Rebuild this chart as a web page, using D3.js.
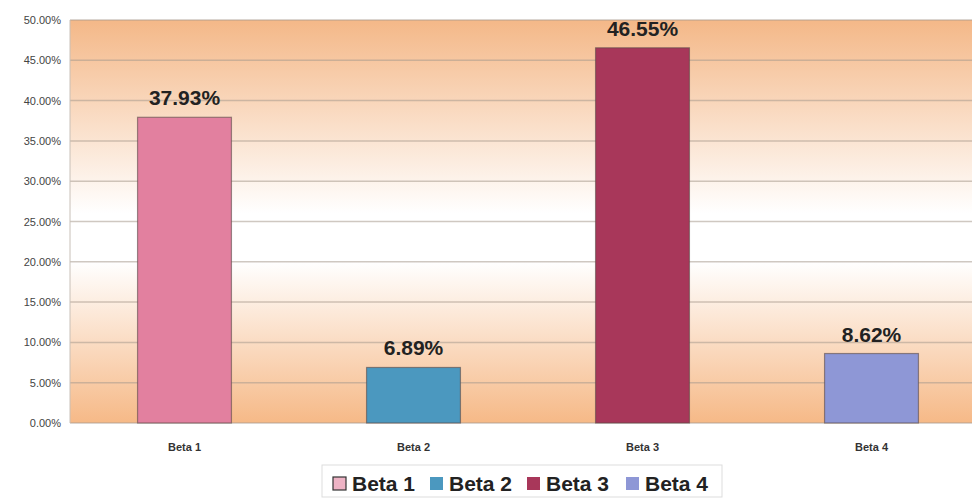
<!DOCTYPE html>
<html>
<head>
<meta charset="utf-8">
<script src="https://cdn.jsdelivr.net/npm/d3@7"></script>
<style>
  body { margin: 0; background: #fff; }
  svg { display: block; font-family: "Liberation Sans", Arial, sans-serif; }
</style>
</head>
<body>
<svg id="chart" width="972" height="498"></svg>
<script>
// data
const categories = ["Beta 1", "Beta 2", "Beta 3", "Beta 4"];
const values = [37.93, 6.89, 46.55, 8.62];
const colors = ["#e2809f", "#4b98bf", "#a8375a", "#8e97d6"];
const yTicks = [0, 5, 10, 15, 20, 25, 30, 35, 40, 45, 50];

let svg = d3.select("#chart");

let plot = { left: 70, right: 986, top: 20, bottom: 423 };

let xScale = d3.scaleBand()
    .domain(categories)
    .range([plot.left, plot.right])
    .paddingInner(0.59)
    .paddingOuter(0.295);

let yScale = d3.scaleLinear()
    .domain([0, 50])
    .range([plot.bottom, plot.top]);

// background gradient: orange top, white middle, orange bottom
let defs = svg.append("defs");
let grad = defs.append("linearGradient")
    .attr("id", "bg")
    .attr("x1", 0).attr("y1", 0).attr("x2", 0).attr("y2", 1);
grad.append("stop").attr("offset", "0%").attr("stop-color", "#f4b888");
grad.append("stop").attr("offset", "48%").attr("stop-color", "#ffffff");
grad.append("stop").attr("offset", "60%").attr("stop-color", "#ffffff");
grad.append("stop").attr("offset", "100%").attr("stop-color", "#f6b987");

svg.append("rect")
    .attr("x", plot.left)
    .attr("y", plot.top)
    .attr("width", plot.right - plot.left)
    .attr("height", plot.bottom - plot.top)
    .attr("fill", "url(#bg)");

// gridlines
svg.append("g")
    .selectAll("line")
    .data(yTicks)
    .join("line")
    .attr("x1", plot.left)
    .attr("x2", plot.right)
    .attr("y1", d => yScale(d))
    .attr("y2", d => yScale(d))
    .attr("stroke", "#a89a8e")
    .attr("stroke-opacity", 0.55)
    .attr("stroke-width", 1.5);

// left edge
svg.append("line")
    .attr("x1", plot.left).attr("x2", plot.left)
    .attr("y1", plot.top).attr("y2", plot.bottom)
    .attr("stroke", "#c8c0b8");

// y axis
let yAxis = d3.axisLeft(yScale)
    .tickValues(yTicks)
    .tickSize(0)
    .tickPadding(9)
    .tickFormat(d => d.toFixed(2) + "%");

let yG = svg.append("g")
    .attr("transform", "translate(" + plot.left + ",0)")
    .call(yAxis);
yG.select(".domain").remove();
yG.selectAll("text")
    .attr("font-size", 11)
    .attr("fill", "#444")
    .attr("font-family", "Liberation Sans, Arial, sans-serif");

// bars
svg.append("g")
    .selectAll("rect")
    .data(values)
    .join("rect")
    .attr("x", (d, i) => xScale(categories[i]))
    .attr("y", d => yScale(d))
    .attr("width", xScale.bandwidth())
    .attr("height", d => yScale(0) - yScale(d))
    .attr("fill", (d, i) => colors[i])
    .attr("stroke", "#5a4a48")
    .attr("stroke-opacity", 0.6)
    .attr("stroke-width", 1.2);

// value labels
svg.append("g")
    .selectAll("text")
    .data(values)
    .join("text")
    .attr("x", (d, i) => xScale(categories[i]) + xScale.bandwidth() / 2)
    .attr("y", d => yScale(d) - 12)
    .attr("text-anchor", "middle")
    .attr("font-size", 21)
    .attr("font-weight", "bold")
    .attr("fill", "#222")
    .text(d => d.toFixed(2) + "%");

// x axis labels
let xAxis = d3.axisBottom(xScale)
    .tickSize(0)
    .tickPadding(20);
let xG = svg.append("g")
    .attr("transform", "translate(0," + plot.bottom + ")")
    .call(xAxis);
xG.select(".domain").remove();
xG.selectAll("text")
    .attr("font-size", 11)
    .attr("font-weight", "bold")
    .attr("fill", "#333")
    .attr("font-family", "Liberation Sans, Arial, sans-serif");

// legend
let legend = svg.append("g").attr("transform", "translate(322,465)");
legend.append("rect")
    .attr("x", 0).attr("y", 0)
    .attr("width", 400).attr("height", 32)
    .attr("fill", "#fff")
    .attr("stroke", "#ddd");

let itemX = [11, 108, 205, 304];
let items = legend.selectAll("g.item")
    .data(categories)
    .join("g")
    .attr("class", "item")
    .attr("transform", (d, i) => "translate(" + itemX[i] + ",0)");
items.append("rect")
    .attr("x", 0).attr("y", 12)
    .attr("width", 13).attr("height", 13)
    .attr("fill", (d, i) => colors[i])
    .attr("stroke", (d, i) => i === 0 ? "#333" : "none")
    .attr("stroke-width", 1.2)
    .attr("fill-opacity", (d, i) => i === 0 ? 0.6 : 1);
items.append("text")
    .attr("x", 19).attr("y", 26)
    .attr("font-size", 21)
    .attr("font-weight", "bold")
    .attr("fill", "#222")
    .text(d => d);
</script>
</body>
</html>
